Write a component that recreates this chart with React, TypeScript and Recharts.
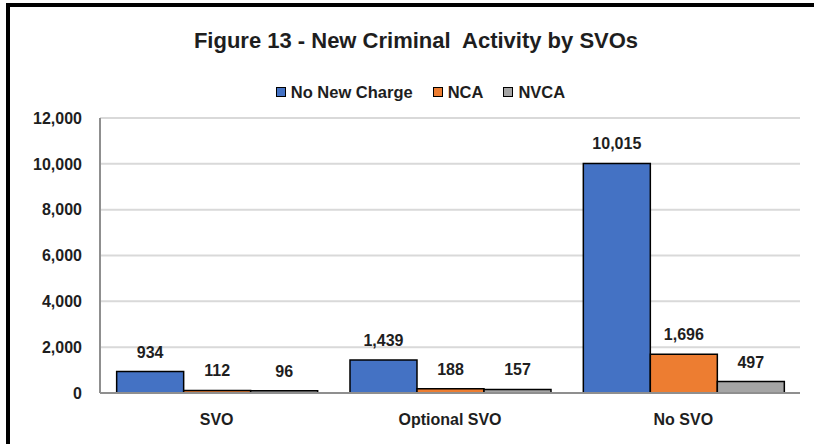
import React from 'react';
import { BarChart, Bar, XAxis, YAxis, CartesianGrid, LabelList } from 'recharts';

const categories = ['SVO', 'Optional SVO', 'No SVO'];
const noNewCharge = [934, 1439, 10015];
const nca = [112, 188, 1696];
const nvca = [96, 157, 497];
const seriesNames = ['No New Charge', 'NCA', 'NVCA'];
const seriesKeys = ['noNewCharge', 'nca', 'nvca'];
const seriesColors = ['#4472C4', '#ED7D31', '#A5A5A5'];
const yTicks = [0, 2000, 4000, 6000, 8000, 10000, 12000];
const titleText = 'Figure 13 - New Criminal  Activity by SVOs';

const data = categories.map((c, i) => ({
  category: c,
  noNewCharge: noNewCharge[i],
  nca: nca[i],
  nvca: nvca[i],
}));

const FONT = '"Liberation Sans", Arial, sans-serif';
const TEXT = '#1e1e1e';
const fmt = (v: number) => Number(v).toLocaleString('en-US');

const LegendContent = () => (
  <div style={{ display: 'flex', justifyContent: 'center', alignItems: 'center', fontFamily: FONT, fontWeight: 'bold', fontSize: 16.5, lineHeight: '18px', color: TEXT }}>
    {seriesNames.map((n, i) => (
      <div key={n} style={{ display: 'flex', alignItems: 'center', marginRight: i < seriesNames.length - 1 ? 20 : 0 }}>
        <span style={{ display: 'inline-block', width: 8, height: 8, background: seriesColors[i], border: '1.5px solid #000', marginRight: 5 }} />
        <span style={{ whiteSpace: 'pre' }}>{n}</span>
      </div>
    ))}
  </div>
);

export default function App() {
  return (
    <div style={{ position: 'relative', width: 814, height: 444, background: '#fff', overflow: 'hidden' }}>
      <style>{`body{margin:0;}`}</style>
      <div style={{ position: 'absolute', left: 6, top: 3, width: 820, height: 460, borderTop: '4px solid #000', borderLeft: '4px solid #000', boxSizing: 'border-box' }} />
      <div style={{ position: 'absolute', left: 0, top: 30, width: 832, textAlign: 'center', fontFamily: FONT, fontWeight: 'bold', fontSize: 22, lineHeight: '22px', color: TEXT, whiteSpace: 'pre' }}>
        {titleText}
      </div>
      <div style={{ position: 'absolute', left: 0, top: 83, width: 841 }}>
        <LegendContent />
      </div>
      <div style={{ position: 'absolute', left: 0, top: 0 }}>
        <BarChart width={814} height={444} data={data} margin={{ top: 118, right: 14, bottom: 21, left: 0 }} barCategoryGap="7.14%" barGap={0}>
          <CartesianGrid vertical={false} stroke="#d9d9d9" strokeWidth={2} />
          <XAxis dataKey="category" axisLine={{ stroke: '#8f8f8f', strokeWidth: 2 }} tickLine={false} tickSize={0} tickMargin={21} height={30}
            tick={{ fill: TEXT, fontSize: 16, fontWeight: 'bold', fontFamily: FONT }} />
          <XAxis xAxisId="top" orientation="top" height={0} tick={false} tickLine={false} axisLine={{ stroke: '#8f8f8f', strokeWidth: 2 }} />
          <YAxis domain={[0, 12000]} ticks={yTicks} interval={0} width={100} axisLine={{ stroke: '#8f8f8f', strokeWidth: 2 }} tickLine={false} tickSize={0} tickMargin={18}
            tickFormatter={fmt} tick={{ fill: TEXT, fontSize: 16, fontWeight: 'bold', fontFamily: FONT }} />
          <YAxis yAxisId="right" orientation="right" width={0} tick={false} tickLine={false} axisLine={{ stroke: '#8f8f8f', strokeWidth: 2 }} />
          {seriesKeys.map((k, i) => (
            <Bar key={k} dataKey={k} name={seriesNames[i]} fill={seriesColors[i]} stroke="#000" strokeWidth={1.5} isAnimationActive={false}>
              <LabelList dataKey={k} position="top" offset={14} formatter={fmt} fill={TEXT} fontSize={16} fontWeight="bold" fontFamily={FONT} />
            </Bar>
          ))}
        </BarChart>
      </div>
    </div>
  );
}
